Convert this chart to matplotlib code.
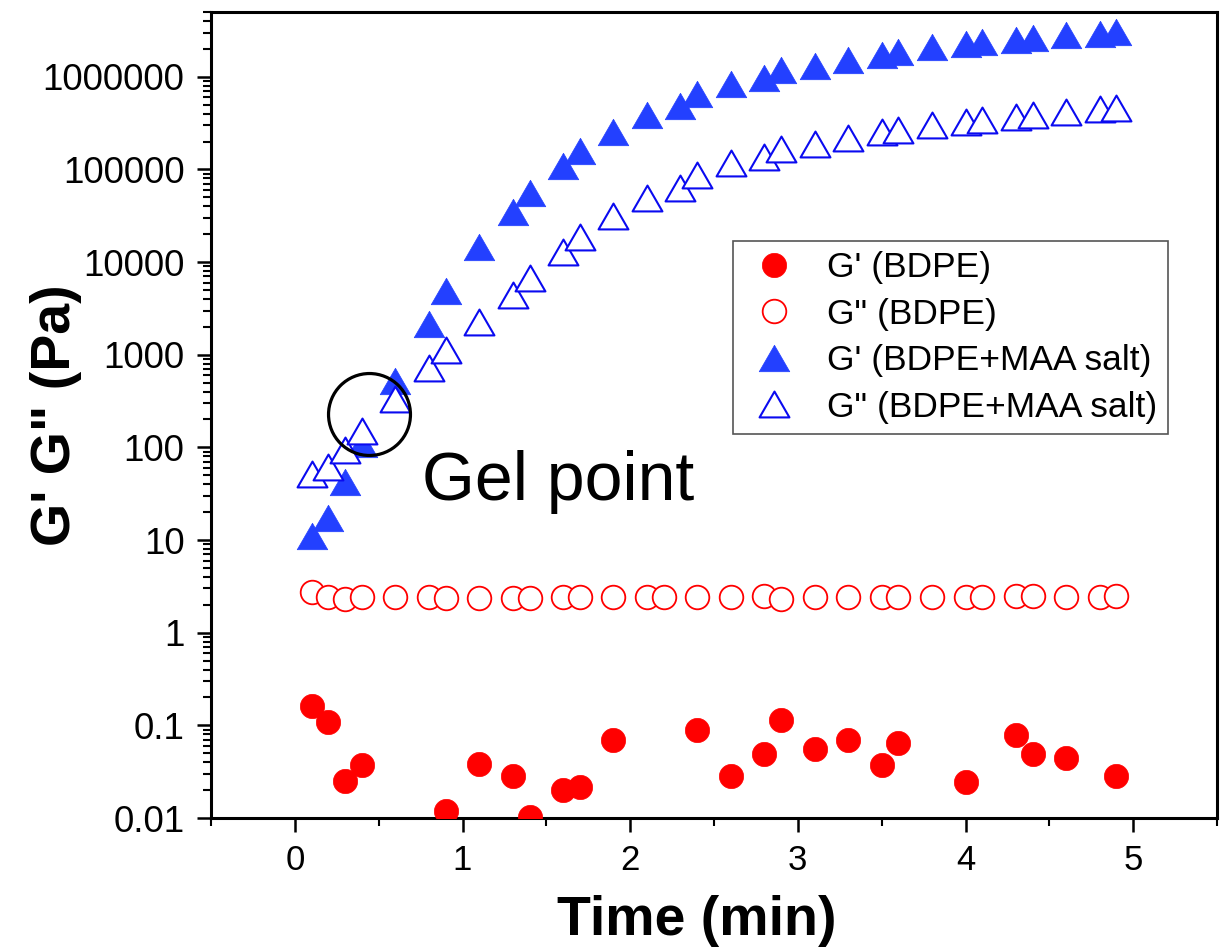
import matplotlib
matplotlib.use("Agg")
import matplotlib.pyplot as plt
from matplotlib.path import Path
from matplotlib.ticker import LogLocator, FixedLocator, FixedFormatter, MultipleLocator, NullFormatter

plt.rcParams['font.family'] = ['Liberation Sans', 'DejaVu Sans']

# ---- data ----
t_bdpe_gp = [0.1, 0.2, 0.3, 0.4, 0.9, 1.1, 1.3, 1.4, 1.6, 1.7, 1.9, 2.4, 2.6, 2.8,
             2.9, 3.1, 3.3, 3.5, 3.6, 4.0, 4.3, 4.4, 4.6, 4.9]
gp_bdpe = [0.16, 0.108, 0.0253, 0.0377, 0.012, 0.0386, 0.0282, 0.0102, 0.020, 0.0218,
           0.0697, 0.089, 0.0284, 0.0496, 0.1135, 0.0552, 0.069, 0.037, 0.064, 0.0245,
           0.078, 0.049, 0.0445, 0.0284]

t_bdpe_gpp = [0.1, 0.2, 0.3, 0.4, 0.6, 0.8, 0.9, 1.1, 1.3, 1.4, 1.6, 1.7, 1.9, 2.1, 2.2,
              2.4, 2.6, 2.8, 2.9, 3.1, 3.3, 3.5, 3.6, 3.8, 4.0, 4.1, 4.3, 4.4, 4.6, 4.8, 4.9]
gpp_bdpe = [2.73, 2.41, 2.31, 2.41, 2.45, 2.41, 2.38, 2.38, 2.38, 2.34, 2.41, 2.45, 2.41,
            2.45, 2.45, 2.41, 2.45, 2.49, 2.33, 2.41, 2.45, 2.45, 2.41, 2.45, 2.41, 2.45,
            2.49, 2.49, 2.41, 2.41, 2.49]

t_maa = [0.1, 0.2, 0.3, 0.4, 0.6, 0.8, 0.9, 1.1, 1.3, 1.4, 1.6, 1.7, 1.9, 2.1, 2.3, 2.4,
         2.6, 2.8, 2.9, 3.1, 3.3, 3.5, 3.6, 3.8, 4.0, 4.1, 4.3, 4.4, 4.6, 4.8, 4.9]
gp_maa = [11, 17.4, 42, 108, 527, 2130, 4900, 14400, 34400, 56300, 108000, 157000,
          253000, 382000, 485000, 650000, 840000, 980000, 1180000, 1320000, 1530000,
          1730000, 1860000, 2070000, 2240000, 2370000, 2520000, 2650000, 2790000,
          2910000, 3030000]
gpp_maa = [51, 62, 94, 151, 329, 723, 1130, 2240, 4380, 6700, 12800, 18700, 31200, 49300,
           63000, 87000, 117000, 137000, 168000, 189000, 217000, 252000, 269000, 300000,
           327000, 341000, 370000, 389000, 418000, 445000, 464000]

labels = ["G' (BDPE)", 'G" (BDPE)', "G' (BDPE+MAA salt)", 'G" (BDPE+MAA salt)']

gel_point_t = [0.44]
gel_point_g = [229]
gel_text_pos = (0.76, 27)
gel_text = "Gel point"

x_ticks = [0, 1, 2, 3, 4, 5]
x_tick_labels = ['0', '1', '2', '3', '4', '5']
y_ticks = [0.01, 0.1, 1, 10, 100, 1000, 10000, 100000, 1000000]
y_tick_labels = ['0.01', '0.1', '1', '10', '100', '1000', '10000', '100000', '1000000']

# ---- figure ----
fig = plt.figure(figsize=(12.28, 9.48), dpi=100)
ax = fig.add_axes([211/1228, 1 - 818/948, 1006/1228, 806/948])

tri = Path([(0, 0.866), (-1, -0.866), (1, -0.866), (0, 0.866)],
           [Path.MOVETO, Path.LINETO, Path.LINETO, Path.CLOSEPOLY])
red = '#FF0000'
blue_fill = '#2340FF'
blue_edge = '#0A0AF0'

ax.plot(t_bdpe_gp, gp_bdpe, linestyle='none', marker='o', ms=17.5, mfc=red, mec=red,
        mew=0.5, label=labels[0], zorder=3)
ax.plot(t_bdpe_gpp, gpp_bdpe, linestyle='none', marker='o', ms=17.0, mfc='white', mec=red,
        mew=1.3, label=labels[1], zorder=3)
ax.plot(t_maa, gp_maa, linestyle='none', marker=tri, ms=22, mfc=blue_fill, mec=blue_fill,
        mew=0.5, label=labels[2], zorder=3)
ax.plot(t_maa, gpp_maa, linestyle='none', marker=tri, ms=21.5, mfc='white', mec=blue_edge,
        mew=1.5, label=labels[3], zorder=4)

ax.plot(gel_point_t, gel_point_g, linestyle='none', marker='o', ms=59, mfc='none',
        mec='black', mew=2.3, zorder=5)
ax.text(gel_text_pos[0], gel_text_pos[1], gel_text, fontsize=49, ha='left',
        va='baseline', color='black')

ax.set_yscale('log')
ax.set_xlim(-0.5, 5.5)
ax.set_ylim(0.01, 5e6)

ax.xaxis.set_major_locator(FixedLocator(x_ticks))
ax.xaxis.set_major_formatter(FixedFormatter(x_tick_labels))
ax.xaxis.set_minor_locator(MultipleLocator(0.5))
ax.yaxis.set_major_locator(FixedLocator(y_ticks))
ax.yaxis.set_major_formatter(FixedFormatter(y_tick_labels))
ax.yaxis.set_minor_locator(LogLocator(base=10, subs=range(2, 10), numticks=50))
ax.yaxis.set_minor_formatter(NullFormatter())

for s in ax.spines.values():
    s.set_linewidth(2.2)
ax.tick_params(which='major', direction='out', length=10, width=1.8, pad=9,
               top=False, right=False)
ax.tick_params(axis='y', which='major', labelsize=26.5)
ax.tick_params(axis='x', which='major', labelsize=25)
ax.tick_params(which='minor', direction='out', length=5.5, width=1.5, top=False, right=False)

ax.set_xlabel('Time (min)', fontsize=40, fontweight='bold')
ax.xaxis.set_label_coords(0.483, -0.096)
ax.set_ylabel('G\' G" (Pa)', fontsize=40, fontweight='bold')
ax.yaxis.set_label_coords(-0.128, 0.5)

leg = ax.legend(loc='upper left', bbox_to_anchor=(733/1228, 1 - 240.7/948),
                bbox_transform=fig.transFigure, fontsize=25.5, frameon=True, fancybox=False,
                framealpha=1, edgecolor='#555555', borderpad=0.3, labelspacing=0.38,
                handlelength=1.7, handletextpad=0.65, borderaxespad=0)
leg.get_frame().set_linewidth(1.2)

fig.savefig('out.png', dpi=100)
